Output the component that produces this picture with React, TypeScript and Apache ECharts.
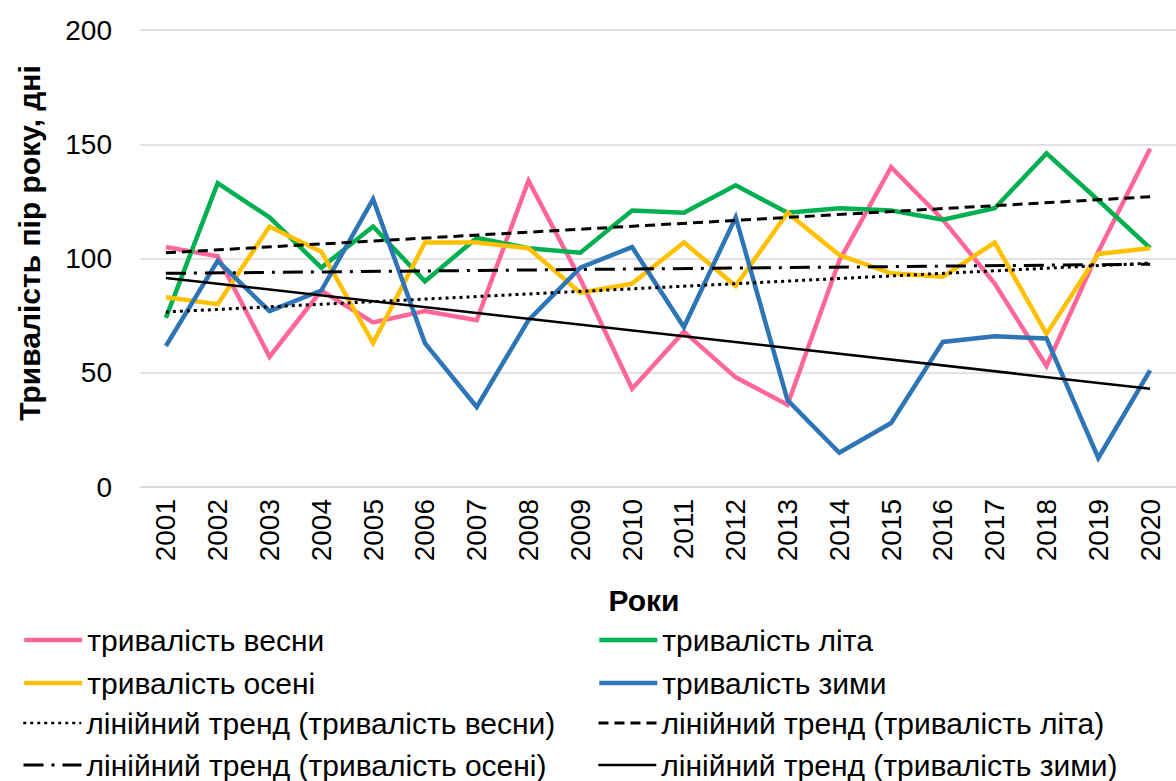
import React, { useEffect, useRef } from "react";
import * as echarts from "echarts";

const years = ["2001","2002","2003","2004","2005","2006","2007","2008","2009","2010","2011","2012","2013","2014","2015","2016","2017","2018","2019","2020"];
const spring = [105, 101, 57, 86, 72, 77, 73, 134, 91, 43, 68, 48, 36, 99, 140, 117, 89, 53, 103, 148];
const summer = [74, 133, 118, 96, 114, 90, 109, 104.5, 102.5, 121, 120, 132, 120, 122, 121, 117, 122, 146, 125.5, 104.5];
const autumn = [83, 80, 114, 103, 63, 107, 107, 104.5, 85, 89, 107, 88, 120, 101.5, 93.5, 92, 107, 67, 102, 104.5];
const winter = [61.7, 99, 77, 86, 126, 63, 35, 73, 96, 105, 70, 118, 38, 15, 28, 63.5, 66, 65, 12.7, 51];
// trend line endpoints (2001, 2020)
const trendSpring = [76.6, 98];
const trendSummer = [102.5, 127];
const trendAutumn = [93.5, 97.5];
const trendWinter = [91.5, 43];
const yTicks = [0, 50, 100, 150, 200];

const names = {
  spring: "тривалість весни",
  summer: "тривалість літа",
  autumn: "тривалість осені",
  winter: "тривалість зими",
  tSpring: "лінійний тренд (тривалість весни)",
  tSummer: "лінійний тренд (тривалість літа)",
  tAutumn: "лінійний тренд (тривалість осені)",
  tWinter: "лінійний тренд (тривалість зими)",
};

// legend layout: [name, column x, row centre y, icon line width]
const legendLayout: [string, number, number, number][] = [
  [names.spring, 22, 640, 4.5],
  [names.summer, 597, 640, 4.5],
  [names.autumn, 22, 683, 4.5],
  [names.winter, 597, 683, 4.5],
  [names.tSpring, 22, 723, 2.5],
  [names.tSummer, 597, 723, 3],
  [names.tAutumn, 22, 765, 3],
  [names.tWinter, 597, 765, 2.5],
];

const FONT = "'Liberation Sans', Arial, sans-serif";
const FS = 28;
const LFS = 30;

function endpoints(t: number[]) {
  return years.map((_, i) => (i === 0 ? t[0] : i === years.length - 1 ? t[1] : null));
}

export default function App() {
  const ref = useRef<HTMLDivElement>(null);
  useEffect(() => {
    if (!ref.current) return;
    const chart = echarts.init(ref.current, undefined, { renderer: "svg" });
    const line = (name: string, data: any[], color: string, width: number, type: any, z = 2) => ({
      name,
      type: "line",
      data,
      symbol: "none",
      connectNulls: true,
      z,
      lineStyle: { color, width, type, cap: "butt", join: "miter" },
      itemStyle: { color },
    });
    chart.setOption({
      animation: false,
      backgroundColor: "#ffffff",
      textStyle: { fontFamily: FONT },
      grid: { left: 140, right: -14, top: 30, bottom: 294, containLabel: false },
      xAxis: {
        type: "category",
        data: years,
        boundaryGap: true,
        axisTick: { show: false },
        axisLine: { show: true, lineStyle: { color: "#d9d9d9", width: 1.5 } },
        axisLabel: { rotate: 90, margin: 12, fontSize: FS, color: "#000", fontFamily: FONT, interval: 0 },
      },
      yAxis: {
        type: "value",
        min: 0,
        max: 200,
        interval: 50,
        axisLine: { show: false },
        axisTick: { show: false },
        splitLine: { lineStyle: { color: "#d9d9d9", width: 1.5 } },
        axisLabel: { margin: 28, fontSize: FS, color: "#000", fontFamily: FONT,
          formatter: (v: number) => (yTicks.includes(v) ? String(v) : "") },
      },
      legend: legendLayout.map(([name, x, y, w]) => ({
        left: x,
        top: y - 16,
        padding: 0,
        itemWidth: 58,
        itemHeight: 14,
        itemStyle: { opacity: 0 },
        lineStyle: { width: w },
        textStyle: { fontSize: LFS, color: "#000", fontFamily: FONT, lineHeight: 32 },
        data: [name],
      })),
      graphic: [
        {
          type: "text",
          x: 29,
          y: 243,
          rotation: Math.PI / 2,
          style: { text: "Тривалість пір року, дні", font: `bold 30px ${FONT}`, fill: "#000", align: "center", verticalAlign: "middle" },
        },
        {
          type: "text",
          x: 644,
          y: 600,
          style: { text: "Роки", font: `bold 30px ${FONT}`, fill: "#000", align: "center", verticalAlign: "middle" },
        },
      ],
      series: [
        line(names.spring, spring, "#ff6699", 4.5, "solid"),
        line(names.summer, summer, "#00b050", 4.5, "solid"),
        line(names.autumn, autumn, "#ffc000", 4.5, "solid"),
        line(names.winter, winter, "#2e75b6", 4.5, "solid"),
        line(names.tSpring, endpoints(trendSpring), "#000", 3, [3, 4], 3),
        line(names.tSummer, endpoints(trendSummer), "#000", 3, [10, 6], 3),
        line(names.tAutumn, endpoints(trendAutumn), "#000", 3, [20, 8, 3, 8], 3),
        line(names.tWinter, endpoints(trendWinter), "#000", 2.5, "solid", 3),
      ],
    });
    return () => chart.dispose();
  }, []);
  return <div ref={ref} style={{ position: "absolute", left: 0, top: 0, width: 1176, height: 781 }} />;
}
